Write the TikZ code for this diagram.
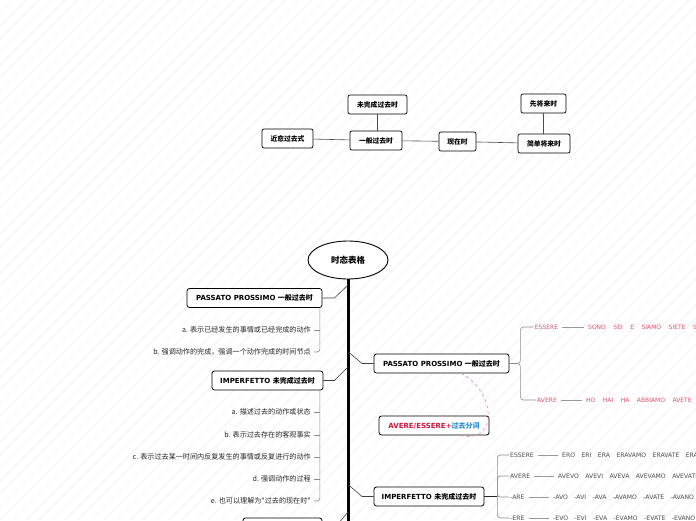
\documentclass[tikz,border=0pt]{standalone}
\usepackage{fontspec}
\setmainfont{DejaVu Sans}
\newfontfamily\zh{Noto Sans CJK SC}
\usetikzlibrary{calc,shapes.geometric}
\definecolor{pinkred}{RGB}{222,80,110}
\definecolor{crimson}{RGB}{208,22,62}
\definecolor{azure}{RGB}{40,140,210}
\definecolor{relpink}{RGB}{240,150,165}
\newcommand{\gap}{\hspace{6.5pt}}
\newcommand{\wgap}{\hspace{7.5pt}}
\tikzset{
 stripe/.style={draw=black!5,line width=.6pt},
 tbox/.style={draw,rounded corners=2pt,line width=.7pt,fill=white,minimum height=19,inner xsep=2pt,font=\zh\bfseries\fontsize{6.8}{8}\selectfont},
 bbox/.style={draw,rounded corners=2.5pt,line width=.8pt,fill=white,minimum height=19,inner xsep=2pt,font=\bfseries\fontsize{7}{8}\selectfont},
 root/.style={ellipse,draw,line width=.9pt,fill=white,minimum width=80,minimum height=38,font=\zh\bfseries\fontsize{8.5}{9}\selectfont},
 tline/.style={draw=black!70,line width=.6pt},
 spine/.style={line width=3pt},
 link/.style={draw=black!75,line width=.6pt},
 sub/.style={draw=black!45,line width=.6pt,rounded corners=3pt},
 sub2/.style={draw=black!40,line width=1pt,shorten <=3pt,shorten >=3pt},
 thk/.style={draw=black!85,line width=1.4pt},
 item/.style={anchor=east,inner sep=1pt,text=black!85,font=\zh\fontsize{7.1}{8}\selectfont},
 plabel/.style={inner sep=1pt,text=pinkred,font=\fontsize{6}{7}\selectfont},
 glabel/.style={anchor=west,inner sep=1pt,text=black!70,font=\fontsize{6.1}{7}\selectfont},
 rel/.style={draw=relpink,line width=.7pt,dashed}
}
\begin{document}
\begin{tikzpicture}[x=1pt,y=-1pt]
\path[use as bounding box] (0,0) rectangle (696,520);
\clip (0,0) rectangle (696,520);
\fill[white] (0,0) rectangle (696,520);
% faint stripes
\foreach \i in {-520,-507,...,700}
  \draw[stripe] (\i,520) -- ++(520,-520);
% top tense line
\node[tbox,minimum width=59] (wwc) at (377.5,104.5) {未完成过去时};
\node[tbox,minimum width=52] (ybg) at (376,140.5) {一般过去时};
\node[tbox,minimum width=51] (jy) at (287.5,138.5) {近愈过去式};
\node[tbox,minimum width=37] (xz) at (457.5,141.5) {现在时};
\node[tbox,minimum width=45] (xjl) at (543.5,103.5) {先将来时};
\node[tbox,minimum width=52] (jdjl) at (544,143.5) {简单将来时};
\draw[tline] (jy) -- (ybg);
\draw[tline] (wwc.south) -- (wwc.south |- ybg.north);
\draw[tline] (ybg) -- (xz);
\draw[tline] (xz) -- (jdjl);
\draw[tline] (xjl.south) -- (xjl.south |- jdjl.north);
% root and spine
\node[root] (root) at (348,260) {时态表格};
\coordinate (spineend) at (348,522);
\draw[spine] (root.south) -- (spineend);
\coordinate (s1) at (348,285);
\coordinate (s2) at (348,351.5);
\coordinate (s3) at (348,367);
\coordinate (s4) at (348,484.5);
\coordinate (s5) at (348,512);
% left: passato prossimo
\node[bbox,minimum width=135] (ppL) at (254.5,298) {PASSATO PROSSIMO {\zh 一般过去时}};
\draw[link] (ppL.east) -- ++(12,0) -- (s1);
\node[item] (ppa) at (312,330) {a. 表示已经发生的事情或已经完成的动作};
\node[item] (ppb) at (312,352) {b. 强调动作的完成，强调一个动作完成的时间节点};
\coordinate (ppv) at ($(ppL.south east)+(-2.5,0)$);
\draw[sub] (ppv) |- ($(ppb.east)+(2,0)$);
\draw[sub] ($(ppa.east)+(2,0)$) -- (ppa.east -| ppv);
% left: imperfetto
\node[bbox,minimum width=111] (impL) at (267.5,380.5) {IMPERFETTO {\zh 未完成过去时}};
\draw[link] (impL.east) -- ++(11,0) -- (s3);
\node[item] (ima) at (312,412) {a. 描述过去的动作或状态};
\node[item] (imb) at (312,435) {b. 表示过去存在的客观事实};
\node[item] (imc) at (312,457) {c. 表示过去某一时间内反复发生的事情或反复进行的动作};
\node[item] (imd) at (312,479) {d. 强调动作的过程};
\node[item] (ime) at (312,501) {e. 也可以理解为"过去的现在时"};
\coordinate (imv) at ($(impL.south east)+(-3.5,0)$);
\draw[sub] (imv) |- ($(ime.east)+(2,0)$);
\foreach \n in {ima,imb,imc,imd}
  \draw[sub] ($(\n.east)+(2,0)$) -- (\n.east -| imv);
% left: cut-off box
\node[bbox,minimum width=79] (bl) at (282.5,527.5) {};
\draw[link] (s5) -- ++(-13,15.5) -- (bl.east);
% right: passato prossimo
\node[bbox,minimum width=135] (ppR) at (441.5,363.5) {PASSATO PROSSIMO {\zh 一般过去时}};
\draw[link] (s2) -- ++(14,12) -- (ppR.west);
\node[plabel] (es) at (546.5,327) {ESSERE};
\node[plabel] (av) at (547,400) {AVERE};
\node[plabel,anchor=west] (sono) at (587,327) {SONO\wgap SEI\wgap E\wgap SIAMO\wgap SIETE\wgap SONO};
\node[plabel,anchor=west] (ho) at (585,400) {HO\wgap HAI\wgap HA\wgap ABBIAMO\wgap AVETE\wgap HANNO};
\draw[sub] (ppR.east) -- ++(11,0) |- (es.west);
\draw[sub] (ppR.east) -- ++(11,0) |- (av.west);
\draw[sub2] (es) -- (sono);
\draw[sub2] (av) -- (ho);
% auxiliary
\node[bbox,minimum width=110] (aux) at (434,425.5) {{\color{crimson}AVERE/ESSERE+}{\color{azure}\zh 过去分词}};
\draw[rel] ($(ppR.south)+(19.5,0)$) .. controls (495,390) and (500,445) .. ($(aux.south)+(26,0)$);
% right: imperfetto
\node[bbox,minimum width=110] (impR) at (429,496.5) {IMPERFETTO {\zh 未完成过去时}};
\draw[link] (s4) -- ++(14,12) -- (impR.west);
\draw[thk] (impR.east) -- ++(13,0) coordinate (iv);
\node[glabel] (r1) at (509,455) {ESSERE};
\node[glabel] (r2) at (509,476) {AVERE};
\node[glabel] (r3) at (509,497) {-ARE};
\node[glabel] (r4) at (509,518) {-ERE};
\node[glabel] (c1) at (561,455) {ERO\gap ERI\gap ERA\gap ERAVAMO\gap ERAVATE\gap ERANO};
\node[glabel] (c2) at (557,476) {AVEVO\gap AVEVI\gap AVEVA\gap AVEVAMO\gap AVEVATE\gap AVEVANO};
\node[glabel] (c3) at (552,497) {-AVO\gap -AVI\gap -AVA\gap -AVAMO\gap -AVATE\gap -AVANO};
\node[glabel] (c4) at (552,518) {-EVO\gap -EVI\gap -EVA\gap -EVAMO\gap -EVATE\gap -EVANO};
\foreach \r/\c in {r1/c1,r2/c2,r3/c3,r4/c4}{
  \draw[sub] (iv) |- (\r.west);
  \draw[sub2] (\r) -- (\c);
}
\end{tikzpicture}
\end{document}
